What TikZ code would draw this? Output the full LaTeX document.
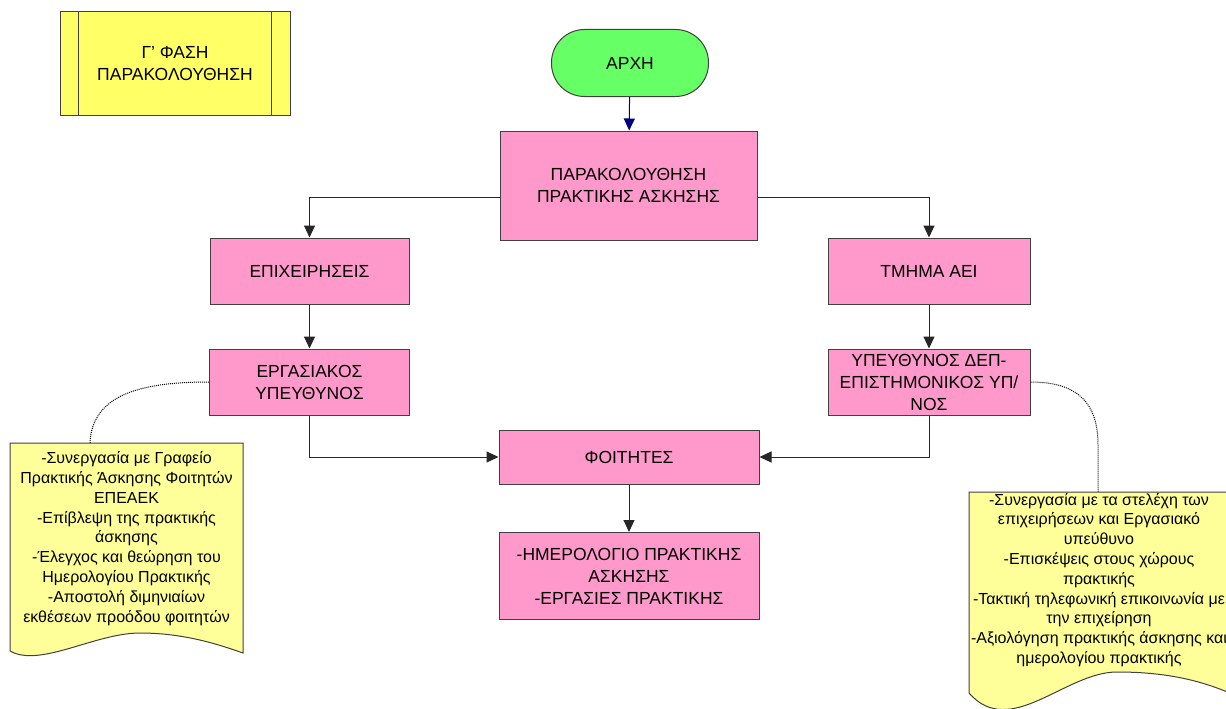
\documentclass[tikz,border=0pt]{standalone}
\usepackage{fontspec}
\setmainfont{Liberation Sans}
\usetikzlibrary{arrows.meta,positioning,calc}
\definecolor{boxpink}{HTML}{FF99CC}
\definecolor{startgreen}{HTML}{66FF66}
\definecolor{phaseyellow}{HTML}{FFFF66}
\definecolor{noteyellow}{HTML}{FFFF99}
\definecolor{edgegray}{HTML}{404040}
\definecolor{startblue}{HTML}{000080}

\begin{document}
\begin{tikzpicture}[x=1pt,y=-1pt,
		stepbox/.style={draw=edgegray, line width=1pt, fill=boxpink, align=center, inner sep=0pt, font=\fontsize{17.5}{22}\selectfont},
		flow/.style={draw=black!85, line width=1pt, -{Triangle[length=12pt,width=11pt]}},
		notetext/.style={align=center, inner sep=0pt, font=\fontsize{16}{19.8}\selectfont},
		notebox/.style={draw=edgegray, line width=1pt, fill=noteyellow},
		remark/.style={draw=black, line width=1pt, dash pattern=on 1pt off 1pt}]
			\useasboundingbox (0,0) rectangle (1226,709);
			\node[stepbox, fill=phaseyellow, minimum width=230pt, minimum height=103pt] (phase) at (175,63.5) {Γ’ ΦΑΣΗ\\ΠΑΡΑΚΟΛΟΥΘΗΣΗ};
			\draw[edgegray, line width=1pt] ([xshift=19pt]phase.north west) -- ([xshift=19pt]phase.south west);
			\draw[edgegray, line width=1pt] ([xshift=-19pt]phase.north east) -- ([xshift=-19pt]phase.south east);
			\node[stepbox, fill=startgreen, rounded corners=33pt, minimum width=157pt, minimum height=67pt] (start) at (630,63) {ΑΡΧΗ};
			\node[stepbox, minimum width=257pt, minimum height=109pt] (main) at (628.5,185.5) {ΠΑΡΑΚΟΛΟΥΘΗΣΗ\\ΠΡΑΚΤΙΚΗΣ ΑΣΚΗΣΗΣ};
			\node[stepbox, minimum width=199pt, minimum height=66pt] (firms) at (309.5,271) {ΕΠΙΧΕΙΡΗΣΕΙΣ};
			\node[stepbox, minimum width=202pt, minimum height=66pt] (tmima) at (929,271) {ΤΜΗΜΑ ΑΕΙ};
			\node[stepbox, minimum width=200pt, minimum height=66pt] (erg) at (309.5,382) {ΕΡΓΑΣΙΑΚΟΣ\\ΥΠΕΥΘΥΝΟΣ};
			\node[stepbox, minimum width=202pt, minimum height=66pt] (dep) at (929,382) {ΥΠΕΥΘΥΝΟΣ ΔΕΠ-\\ΕΠΙΣΤΗΜΟΝΙΚΟΣ ΥΠ/\\ΝΟΣ};
			\node[stepbox, minimum width=260pt, minimum height=54pt] (fititis) at (629,457) {ΦΟΙΤΗΤΕΣ};
			\node[stepbox, minimum width=260pt, minimum height=87pt] (diary) at (629,576) {-ΗΜΕΡΟΛΟΓΙΟ ΠΡΑΚΤΙΚΗΣ\\ΑΣΚΗΣΗΣ\\-ΕΡΓΑΣΙΕΣ ΠΡΑΚΤΙΚΗΣ};
			\draw[notebox] (10,443) -- (243,443) -- (243,653) .. controls (220,645) and (185,633) .. (140,633) .. controls (95,633) and (40,668) .. (10,651) -- cycle;
			\draw[notebox] (969,492) -- (1232,492) -- (1232,694) .. controls (1200,680) and (1165,672) .. (1117,672) .. controls (1065,672) and (1010,740) .. (969,693) -- cycle;
			\coordinate (noteLtop) at (90,443);
			\coordinate (noteRtop) at (1098,492);
			\node[notetext] (noteL) at (126.5,538.5) {-Συνεργασία με Γραφείο\\Πρακτικής Άσκησης Φοιτητών\\ΕΠΕΑΕΚ\\-Επίβλεψη της πρακτικής\\άσκησης\\-Έλεγχος και θεώρηση του\\Ημερολογίου Πρακτικής\\-Αποστολή διμηνιαίων\\εκθέσεων προόδου φοιτητών};
			\node[notetext] (noteR) at (1099,580) {-Συνεργασία με τα στελέχη των\\επιχειρήσεων και Εργασιακό\\υπεύθυνο\\-Επισκέψεις στους χώρους\\πρακτικής\\-Τακτική τηλεφωνική επικοινωνία με\\την επιχείρηση\\-Αξιολόγηση πρακτικής άσκησης και\\ημερολογίου πρακτικής};
			\draw[flow, draw=startblue] (start) -- (main);
			\draw[flow] ([yshift=-11.5pt]main.west) -| (firms);
			\draw[flow] ([yshift=-11.5pt]main.east) -| (tmima);
			\draw[flow] (firms) -- (erg);
			\draw[flow] (tmima) -- (dep);
			\draw[flow] (erg) |- (fititis);
			\draw[flow] (dep) |- (fititis);
			\draw[flow] (fititis) -- (diary);
			\draw[remark] (erg.west) .. controls (140,382) and (92,395) .. (noteLtop);
			\draw[remark] (dep.east) .. controls (1080,382) and (1098,405) .. (1098,445) -- (noteRtop);
	\end{tikzpicture}
\end{document}
